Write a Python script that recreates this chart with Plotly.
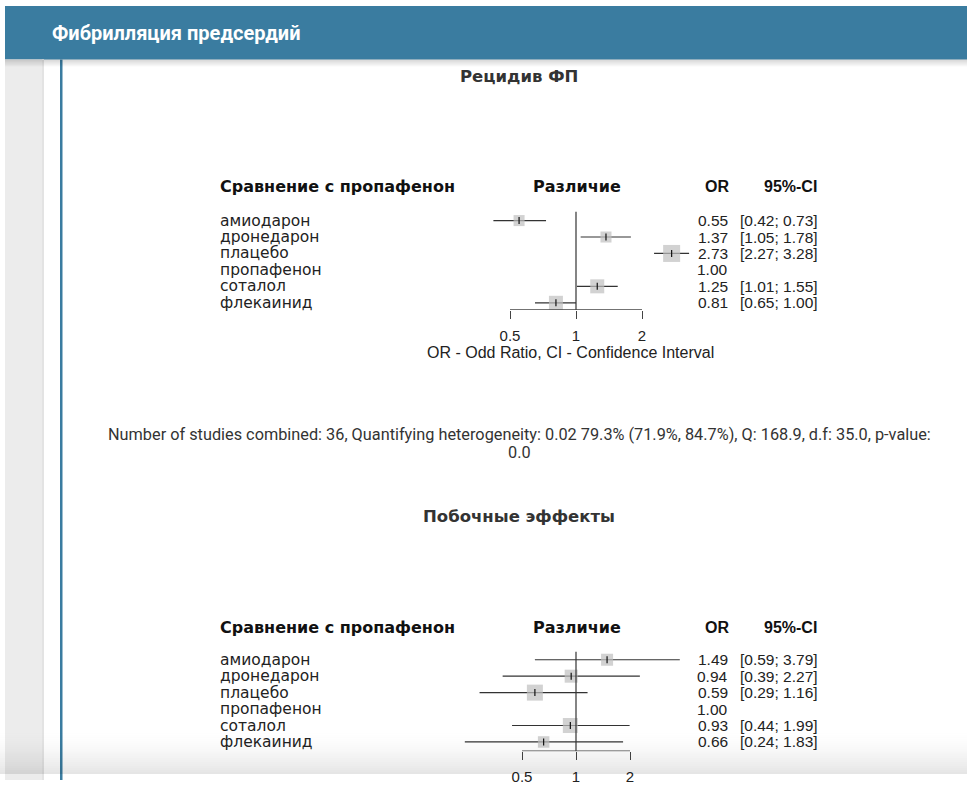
import math
import plotly.graph_objects as go

# ---- data -----------------------------------------------------------------
drugs = ["амиодарон", "дронедарон", "плацебо", "пропафенон", "соталол", "флекаинид"]

# Рецидив ФП (odds ratios vs propafenone)
rec_or = [0.55, 1.37, 2.73, 1.00, 1.25, 0.81]
rec_lo = [0.42, 1.05, 2.27, None, 1.01, 0.65]
rec_hi = [0.73, 1.78, 3.28, None, 1.55, 1.00]
rec_w = [6.9, 6.9, 16.4, 0.0, 11.1, 11.1]

# Побочные эффекты
adv_or = [1.49, 0.94, 0.59, 1.00, 0.93, 0.66]
adv_lo = [0.59, 0.39, 0.29, None, 0.44, 0.24]
adv_hi = [3.79, 2.27, 1.16, None, 1.99, 1.83]
adv_w = [8.2, 9.6, 14.5, 0.0, 12.8, 7.5]

tick_vals = [0.5, 1, 2]
tick_text = ["0.5", "1", "2"]

stats_lines = ["Number of studies combined: 36, Quantifying heterogeneity: 0.02 79.3% (71.9%, 84.7%), "
               "Q: 168.9, d.f: 35.0, p-value:",
               "0.0"]

# ---- page geometry --------------------------------------------------------
W, H = 967, 785
H_VIEW = 778          # height of the visible drawing area used for paper coordinates
BLUE = "#3a7ca0"
INK = "#222222"


def px(x):
    return x / W


def py(y):
    return 1 - y / H_VIEW


fig = go.Figure()
shapes = []
annotations = []


def note(text, x, y, anchor="center", family="Liberation Sans", size=15, color=INK, yref="paper"):
    annotations.append(dict(text=text, xref="paper", yref=yref, x=px(x),
                            y=py(y) if yref == "paper" else y,
                            xanchor=anchor, yanchor="middle", showarrow=False, borderpad=0,
                            font=dict(family=family, size=size, color=color)))


# page chrome: header, sidebar, rule
shapes.append(dict(type="rect", xref="paper", yref="paper", x0=px(5), x1=1, y0=py(60), y1=py(6),
                   fillcolor=BLUE, line_width=0, layer="below"))
shapes.append(dict(type="rect", xref="paper", yref="paper", x0=px(5), x1=px(44), y0=py(H), y1=py(60),
                   fillcolor="#ececec", line_width=0, layer="below"))
shapes.append(dict(type="rect", xref="paper", yref="paper", x0=px(42), x1=px(44), y0=py(H), y1=py(60),
                   fillcolor="#e3e3e3", line_width=0, layer="below"))
shapes.append(dict(type="rect", xref="paper", yref="paper", x0=px(60), x1=px(62.5), y0=py(H), y1=py(60),
                   fillcolor=BLUE, line_width=0, layer="below"))
# soft shadow under the header
for i in range(7):
    shapes.append(dict(type="rect", xref="paper", yref="paper", x0=px(5), x1=1,
                       y0=py(61 + i), y1=py(60 + i),
                       fillcolor=f"rgba(0,0,0,{0.16 * (1 - i / 7):.3f})", line_width=0, layer="below"))
note("<b>Фибрилляция предсердий</b>", 51, 33, anchor="left", family="Roboto", size=20, color="white")

# ---- forest panels ---------------------------------------------------------
ROW_STEP = 16.55
LEFT, RIGHT = 220, 830
ONE_X = 576
title_text = {1: "<b>Рецидив ФП</b>", 2: "<b>Побочные эффекты</b>"}


def forest(idx, title_y, head_y, row0_y, axis_y, ref_top_y, px_per_doubling,
           ors, los, his, weights):
    xa = "xaxis" if idx == 1 else f"xaxis{idx}"
    ya = "yaxis" if idx == 1 else f"yaxis{idx}"
    xr = "x" if idx == 1 else f"x{idx}"
    yr = "y" if idx == 1 else f"y{idx}"
    unit = px_per_doubling / math.log10(2)
    xrange = [(LEFT - ONE_X) / unit, (RIGHT - ONE_X) / unit]
    top_px = head_y + 8
    yrange = [(axis_y - row0_y) / ROW_STEP, (top_px - row0_y) / ROW_STEP]

    fig.update_layout(**{
        xa: dict(type="log", range=xrange, domain=[px(LEFT), px(RIGHT)], anchor=yr,
                 tickvals=tick_vals, ticktext=tick_text, ticks="outside", ticklen=8,
                 tickcolor="#444", tickwidth=1.2, showline=False, showgrid=False, zeroline=False,
                 ticklabelstandoff=4,
                 tickfont=dict(family="Liberation Sans, Arial", size=15, color=INK)),
        ya: dict(range=yrange, domain=[py(axis_y), py(top_px)], anchor=xr, visible=False,
                 showgrid=False, zeroline=False),
    })

    rows = list(range(len(drugs)))
    # confidence intervals
    cx, cy = [], []
    for r, lo, hi in zip(rows, los, his):
        if lo is None:
            continue
        cx += [lo, hi, None]
        cy += [r, r, None]
    fig.add_trace(go.Scatter(x=cx, y=cy, mode="lines", xaxis=xr, yaxis=yr, hoverinfo="skip",
                             line=dict(color="#333333", width=1.2), showlegend=False))
    # weighted squares
    sel = [r for r in rows if weights[r] > 0]
    fig.add_trace(go.Scatter(x=[ors[r] for r in sel], y=sel, mode="markers", xaxis=xr, yaxis=yr,
                             marker=dict(symbol="square", color="#bfbfbf",
                                         size=[4.2 * math.sqrt(weights[r]) for r in sel],
                                         line=dict(width=0)),
                             showlegend=False, cliponaxis=False))
    fig.add_trace(go.Scatter(x=[ors[r] for r in sel], y=sel, mode="markers", xaxis=xr, yaxis=yr,
                             marker=dict(symbol="line-ns", size=5, line=dict(color="#111", width=1.2)),
                             showlegend=False, cliponaxis=False))

    # reference line at OR = 1 and the bounded axis line
    shapes.append(dict(type="line", xref=xr, yref=yr, x0=1, x1=1,
                       y0=(ref_top_y - row0_y) / ROW_STEP, y1=yrange[0],
                       line=dict(color="#333333", width=1.2)))
    shapes.append(dict(type="line", xref=xr, yref=yr, x0=tick_vals[0], x1=tick_vals[-1],
                       y0=yrange[0], y1=yrange[0], line=dict(color="#444", width=1.4)))

    # titles and text columns
    note(title_text[idx], 519, title_y, family="DejaVu Sans", size=16.5, color="#333333")
    note("<b>Сравнение с пропафенон</b>", 219, head_y, anchor="left", family="DejaVu Sans",
         size=16, color="#111")
    note("<b>Различие</b>", 577, head_y, family="DejaVu Sans", size=16, color="#111")
    note("<b>OR</b>", 730, head_y, anchor="right", size=16, color="#111")
    note("<b>95%-CI</b>", 818, head_y, anchor="right", size=16, color="#111")
    for r in rows:
        note(drugs[r], 219, r, anchor="left", family="DejaVu Sans", size=15.5, yref=yr)
        note(f"{ors[r]:.2f}", 729, r, anchor="right", size=15.5, yref=yr)
        if los[r] is not None:
            note(f"[{los[r]:.2f}; {his[r]:.2f}]", 819, r, anchor="right", size=15.5, yref=yr)


forest(1, title_y=77, head_y=188, row0_y=222, axis_y=312, ref_top_y=213, px_per_doubling=66,
       ors=rec_or, los=rec_lo, his=rec_hi, weights=rec_w)
forest(2, title_y=520, head_y=632, row0_y=664, axis_y=756, ref_top_y=656, px_per_doubling=54,
       ors=adv_or, los=adv_lo, his=adv_hi, weights=adv_w)

note("OR - Odd Ratio, CI - Confidence Interval", 570, 355, size=16)
note(stats_lines[0], 519, 437, family="Roboto", size=16.3, color="#333333")
note(stats_lines[1], 519, 455, family="Roboto", size=16.3, color="#333333")

# fade at the bottom of the page
N = 22
for i in range(N):
    y0 = 735 + i * 2
    a = 0.1 * ((i + 1) / N) ** 1.6
    shapes.append(dict(type="rect", xref="paper", yref="paper", x0=0, x1=1, y0=py(y0 + 2), y1=py(y0),
                       fillcolor=f"rgba(0,0,0,{a:.4f})", line_width=0, layer="above"))

fig.update_layout(width=W, height=H, autosize=False, margin=dict(l=0, r=0, t=0, b=0, pad=0),
                  paper_bgcolor="white", plot_bgcolor="rgba(0,0,0,0)",
                  shapes=shapes, annotations=annotations, showlegend=False)

fig.write_html("out.html", config={"displayModeBar": False, "responsive": False})
